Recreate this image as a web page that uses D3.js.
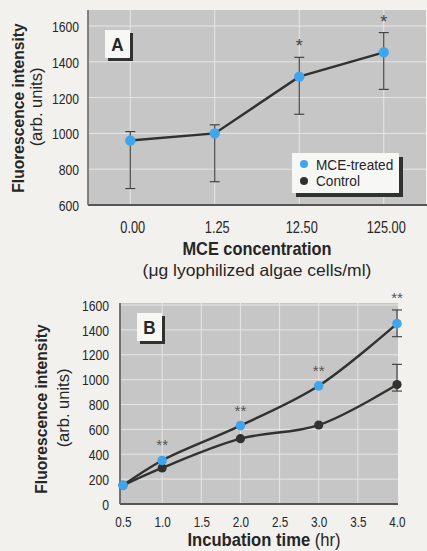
<!DOCTYPE html>
<html><head><meta charset="utf-8">
<script src="https://cdn.jsdelivr.net/npm/d3@7"></script>
<style>html,body{margin:0;padding:0;background:#f3f1ee;} svg{display:block}</style>
</head><body>
<svg id="c" width="427" height="551"></svg>
<script>
// ---------- Panel A data ----------
const concLabels = ["0.00", "1.25", "12.50", "125.00"];
const mceA = [960, 1000, 1317, 1453];
const mceAUpper = [1010, 1048, 1425, 1563];
const mceALower = [692, 730, 1107, 1246];
const sigA = ["", "", "*", "*"];
const yTicksA = [600, 800, 1000, 1200, 1400, 1600];

// ---------- Panel B data ----------
const timeB = [0.5, 1.0, 2.0, 3.0, 4.0];
const mceB = [150, 350, 630, 950, 1450];
const controlB = [150, 290, 525, 635, 960];
const sigB = ["", "**", "**", "**", "**"];
const errTimeB = [4.0];
const mceBUpper = [1560], mceBLower = [1345];
const ctrlBUpper = [1123], ctrlBLower = [908];
const xTicksB = [0.5, 1.0, 1.5, 2.0, 2.5, 3.0, 3.5, 4.0];
const yTicksB = [0, 200, 400, 600, 800, 1000, 1200, 1400, 1600];

const legendLabels = ["MCE-treated", "Control"];

const BLUE = "#3fa6ee", DARK = "#2f322f", PLOT = "#c6c6c6", GRID = "#e6e6e6", TXT = "#262626";
const FONT = "'Liberation Sans', Arial, sans-serif";

const svg = d3.select("#c");

function label(g, x, y, str, opts = {}) {
  return g.append("text")
    .attr("transform", `translate(${x},${y}) rotate(${opts.rot || 0}) scale(${opts.sx || 0.9},1)`)
    .attr("text-anchor", opts.anchor || "middle")
    .attr("font-family", FONT)
    .attr("font-size", opts.size || 14)
    .attr("font-weight", opts.bold ? "bold" : "normal")
    .attr("fill", opts.fill || TXT)
    .text(str);
}

function styleTicks(sel, size) {
  sel.attr("font-family", FONT).attr("font-size", size).attr("fill", TXT);
}

function tagBox(g, x, y, w, h, letter) {
  g.append("rect").attr("x", x + 3).attr("y", y + 3).attr("width", w).attr("height", h).attr("fill", DARK);
  g.append("rect").attr("x", x).attr("y", y).attr("width", w).attr("height", h).attr("fill", "#f7f7f5");
  label(g, x + w / 2, y + h / 2 + 6.5, letter, { size: 18, bold: true, sx: 0.95 });
}

// ================= Panel A =================
{
  const g = svg.append("g");
  const L = 88, R = 426, T = 10, B = 205;
  const x = d3.scalePoint().domain(concLabels).range([L, R]).padding(0.5);
  const y = d3.scaleLinear().domain([600, 1600]).range([B, 26]);

  g.append("rect").attr("x", L).attr("y", T).attr("width", R - L).attr("height", B - T).attr("fill", PLOT);
  g.selectAll(".gh").data(yTicksA.slice(1)).join("line")
    .attr("x1", L).attr("x2", R).attr("y1", d => y(d)).attr("y2", d => y(d))
    .attr("stroke", GRID).attr("stroke-width", 1);
  g.selectAll(".gv").data(concLabels).join("line")
    .attr("x1", d => x(d)).attr("x2", d => x(d)).attr("y1", T).attr("y2", B)
    .attr("stroke", GRID).attr("stroke-width", 1);

  const syA = 0.81;
  const ay = g.append("g").attr("transform", `translate(${L},0)`)
    .call(d3.axisLeft(y).tickValues(yTicksA).tickFormat(d3.format("d")).tickSize(0));
  ay.select(".domain").remove();
  styleTicks(ay.selectAll("text"), 15);
  ay.selectAll("text").attr("x", -9 / syA).attr("transform", `scale(${syA},1)`).attr("dy", "0.36em");

  const sxA = 0.8;
  const ax = g.append("g").attr("transform", `translate(0,${B})`)
    .call(d3.axisBottom(x).tickSize(0).tickPadding(0));
  ax.select(".domain").remove();
  styleTicks(ax.selectAll("text"), 16);
  ax.selectAll("text").attr("y", 0).attr("dy", 0).attr("transform", `translate(2,27.5) scale(${sxA},1)`);

  g.append("line").attr("x1", L).attr("x2", R + 1).attr("y1", B).attr("y2", B).attr("stroke", "#555").attr("stroke-width", 1.8);
  g.append("line").attr("x1", L).attr("x2", L).attr("y1", T).attr("y2", B).attr("stroke", "#777").attr("stroke-width", 1.8);

  tagBox(g, 105, 30, 25, 28, "A");

  const eb = g.selectAll(".eb").data(concLabels).join("g");
  eb.append("line").attr("x1", d => x(d)).attr("x2", d => x(d))
    .attr("y1", (d, i) => y(mceAUpper[i])).attr("y2", (d, i) => y(mceALower[i]))
    .attr("stroke", "#3a3a3a").attr("stroke-width", 1.1);
  [mceAUpper, mceALower].forEach(arr => {
    eb.append("line").attr("x1", d => x(d) - 5).attr("x2", d => x(d) + 5)
      .attr("y1", (d, i) => y(arr[i])).attr("y2", (d, i) => y(arr[i]))
      .attr("stroke", "#3a3a3a").attr("stroke-width", 1.1);
  });

  const line = d3.line().x((d, i) => x(concLabels[i])).y(d => y(d));
  g.append("path").attr("d", line(mceA)).attr("fill", "none").attr("stroke", DARK).attr("stroke-width", 2.4);
  g.selectAll(".dot").data(mceA).join("circle")
    .attr("cx", (d, i) => x(concLabels[i])).attr("cy", d => y(d)).attr("r", 5.2).attr("fill", BLUE);

  concLabels.forEach((c, i) => {
    if (sigA[i]) label(g, x(c), y(mceAUpper[i]) - 5, sigA[i], { size: 18, sx: 1, fill: "#444" });
  });

  const lg = g.append("g");
  lg.append("rect").attr("x", 296).attr("y", 157).attr("width", 107).attr("height", 40).attr("fill", DARK);
  lg.append("rect").attr("x", 292).attr("y", 153).attr("width", 107).attr("height", 40).attr("fill", "#f7f7f5");
  legendLabels.forEach((s, i) => {
    lg.append("circle").attr("cx", 304).attr("cy", 164 + i * 17).attr("r", 4).attr("fill", i === 0 ? BLUE : DARK);
    label(lg, 316, 169.5 + i * 16.5, s, { size: 15.5, anchor: "start", sx: 0.88 });
  });

  label(g, 23.5, 108, "Fluorescence intensity", { size: 17, bold: true, rot: -90, sx: 0.92 });
  label(g, 41.5, 107, "(arb. units)", { size: 16, rot: -90, sx: 1.03 });
  label(g, 257, 255, "MCE concentration", { size: 18, bold: true, sx: 0.91 });
  label(g, 257, 276, "(\u03bcg lyophilized algae cells/ml)", { size: 16.5, sx: 1.06 });
}

// ================= Panel B =================
{
  const g = svg.append("g");
  const L = 120, R = 398, T = 303, B = 504;
  const x = d3.scaleLinear().domain([0.5, 4.0]).range([123, 397]);
  const y = d3.scaleLinear().domain([0, 1600]).range([B, 305]);

  g.append("rect").attr("x", L).attr("y", T).attr("width", R - L).attr("height", B - T).attr("fill", PLOT);
  g.selectAll(".gh").data(yTicksB.slice(1)).join("line")
    .attr("x1", L).attr("x2", R).attr("y1", d => y(d)).attr("y2", d => y(d))
    .attr("stroke", GRID).attr("stroke-width", 1);
  g.selectAll(".gv").data(xTicksB.slice(1, -1)).join("line")
    .attr("x1", d => x(d)).attr("x2", d => x(d)).attr("y1", T).attr("y2", B)
    .attr("stroke", GRID).attr("stroke-width", 1);

  const syB = 0.84;
  const ay = g.append("g").attr("transform", `translate(${L},0)`)
    .call(d3.axisLeft(y).tickValues(yTicksB).tickFormat(d3.format("d")).tickSize(0));
  ay.select(".domain").remove();
  styleTicks(ay.selectAll("text"), 14.5);
  ay.selectAll("text").attr("x", -11 / syB).attr("transform", `scale(${syB},1)`).attr("dy", "0.36em");

  const sxB = 0.78;
  const ax = g.append("g").attr("transform", `translate(0,${B})`)
    .call(d3.axisBottom(x).tickValues(xTicksB).tickFormat(d3.format(".1f")).tickSize(0).tickPadding(0));
  ax.select(".domain").remove();
  styleTicks(ax.selectAll("text"), 15);
  ax.selectAll("text").attr("y", 0).attr("dy", 0).attr("transform", `translate(0,22.5) scale(${sxB},1)`);

  g.append("line").attr("x1", L).attr("x2", R).attr("y1", B).attr("y2", B).attr("stroke", "#555").attr("stroke-width", 1.8);
  g.append("line").attr("x1", L).attr("x2", L).attr("y1", T).attr("y2", B).attr("stroke", "#666").attr("stroke-width", 1.8);

  tagBox(g, 137, 313, 25, 28, "B");

  const curve = d3.line().curve(d3.curveCatmullRom.alpha(0.5)).x((d, i) => x(timeB[i])).y(d => y(d));
  g.append("path").attr("d", curve(controlB)).attr("fill", "none").attr("stroke", DARK).attr("stroke-width", 2.4);
  g.append("path").attr("d", curve(mceB)).attr("fill", "none").attr("stroke", DARK).attr("stroke-width", 2.4);

  [[mceBUpper, mceBLower], [ctrlBUpper, ctrlBLower]].forEach(([up, lo]) => {
    errTimeB.forEach((t, i) => {
      g.append("line").attr("x1", x(t)).attr("x2", x(t)).attr("y1", y(up[i])).attr("y2", y(lo[i]))
        .attr("stroke", "#3a3a3a").attr("stroke-width", 1.1);
      [up[i], lo[i]].forEach(v => g.append("line").attr("x1", x(t) - 5).attr("x2", x(t) + 5)
        .attr("y1", y(v)).attr("y2", y(v)).attr("stroke", "#3a3a3a").attr("stroke-width", 1.1));
    });
  });

  g.selectAll(".dc").data(controlB).join("circle")
    .attr("cx", (d, i) => x(timeB[i])).attr("cy", d => y(d)).attr("r", 4.6).attr("fill", DARK);
  g.selectAll(".dm").data(mceB).join("circle")
    .attr("cx", (d, i) => x(timeB[i])).attr("cy", d => y(d)).attr("r", 4.8).attr("fill", BLUE);

  timeB.forEach((t, i) => {
    if (!sigB[i]) return;
    const ei = errTimeB.indexOf(t);
    const topY = ei >= 0 ? y(mceBUpper[ei]) : y(mceB[i]);
    label(g, x(t), topY - (ei >= 0 ? 7 : 10), sigB[i], { size: 15, sx: 1, fill: "#555" });
  });

  label(g, 46.5, 409, "Fluorescence intensity", { size: 17, bold: true, rot: -90, sx: 0.92 });
  label(g, 68.5, 408, "(arb. units)", { size: 16, rot: -90, sx: 1.03 });

  const tt = g.append("text")
    .attr("transform", `translate(264,546) scale(0.95,1)`)
    .attr("text-anchor", "middle").attr("font-family", FONT).attr("font-size", 17.5).attr("fill", TXT);
  tt.append("tspan").attr("font-weight", "bold").text("Incubation time");
  tt.append("tspan").text(" (hr)");
}
</script>
</body></html>
